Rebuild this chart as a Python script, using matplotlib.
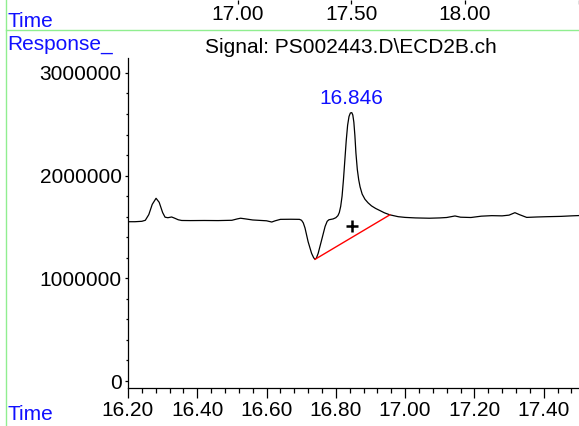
import numpy as np
import matplotlib
matplotlib.use('Agg')
import matplotlib.pyplot as plt
from matplotlib.ticker import MultipleLocator, FixedLocator

plt.rcParams['font.family'] = ['Liberation Sans', 'DejaVu Sans']

# signal (time in min, response)
time_min = [16.19, 16.22, 16.24, 16.25, 16.26, 16.27, 16.281, 16.29, 16.30, 16.307,
            16.315, 16.326, 16.335, 16.345, 16.355, 16.38, 16.42, 16.46, 16.50, 16.515,
            16.525, 16.54, 16.56, 16.58, 16.60, 16.615, 16.625, 16.64, 16.67, 16.695,
            16.701, 16.706, 16.711, 16.720, 16.730, 16.736, 16.740, 16.744, 16.749, 16.759,
            16.769, 16.775, 16.780, 16.792, 16.800, 16.806, 16.810, 16.814, 16.818, 16.822,
            16.826, 16.830, 16.834, 16.838, 16.842, 16.846, 16.849, 16.852, 16.855, 16.858,
            16.862, 16.866, 16.870, 16.876, 16.884, 16.893, 16.903, 16.915, 16.927, 16.940,
            16.956, 16.98, 17.00, 17.03, 17.07, 17.10, 17.12, 17.144, 17.16, 17.19,
            17.22, 17.25, 17.28, 17.30, 17.317, 17.33, 17.351, 17.38, 17.41, 17.45,
            17.48, 17.51]
response = [1.551, 1.551, 1.555, 1.565, 1.62, 1.72, 1.779, 1.74, 1.64, 1.595,
            1.59, 1.597, 1.585, 1.57, 1.563, 1.562, 1.563, 1.562, 1.565, 1.578,
            1.585, 1.578, 1.568, 1.564, 1.56, 1.548, 1.56, 1.574, 1.575, 1.574,
            1.565, 1.54, 1.49, 1.356, 1.243, 1.200, 1.185, 1.198, 1.243, 1.373,
            1.505, 1.555, 1.570, 1.578, 1.590, 1.610, 1.640, 1.700, 1.800, 1.960,
            2.150, 2.340, 2.490, 2.575, 2.610, 2.613, 2.590, 2.520, 2.390, 2.220,
            2.060, 1.960, 1.890, 1.820, 1.770, 1.735, 1.705, 1.680, 1.660, 1.638,
            1.618, 1.600, 1.593, 1.588, 1.585, 1.588, 1.592, 1.607, 1.595, 1.592,
            1.605, 1.610, 1.608, 1.615, 1.639, 1.620, 1.593, 1.597, 1.600, 1.603,
            1.608, 1.612]
response = [v * 1e6 for v in response]

baseline_t = [16.740, 16.956]
baseline_v = [1.185e6, 1.618e6]
peak_rt = 16.846
peak_label = "16.846"
centroid = (16.846, 1.509e6)

top_ticks = [17.00, 17.50, 18.00, 18.50]
top_labels = ["17.00", "17.50", "18.00"]

W, H = 579, 426
fig = plt.figure(figsize=(W / 100, H / 100), dpi=100)
fs = 15

# main chromatogram axes
ax = fig.add_axes([128 / W, (H - 388) / H, (W - 128) / W, (388 - 58) / H])
ax.plot(time_min, response, color='black', lw=0.9)
ax.plot(baseline_t, baseline_v, color='red', lw=1.0)
ax.plot(*centroid, marker='+', color='black', ms=9, mew=1.8)
ax.text(peak_rt, 2.613e6 + 0.05e6, peak_label, color='#1010ff', fontsize=fs,
        ha='center', va='bottom')

ax.set_xlim(16.2, 17.502)
ax.set_ylim(-0.068e6, 3.145e6)
ax.spines['top'].set_visible(False)
ax.spines['right'].set_visible(False)
ax.spines['left'].set_linewidth(0.9)
ax.spines['bottom'].set_linewidth(0.9)

ax.xaxis.set_major_locator(MultipleLocator(0.2))
ax.xaxis.set_minor_locator(MultipleLocator(0.04))
ax.xaxis.set_major_formatter(matplotlib.ticker.FormatStrFormatter('%.2f'))
ax.yaxis.set_major_locator(MultipleLocator(1e6))
ax.yaxis.set_minor_locator(MultipleLocator(2e5))
ax.yaxis.set_major_formatter(matplotlib.ticker.FuncFormatter(lambda v, p: f"{int(round(v))}"))
ax.tick_params(axis='x', which='major', length=7, width=0.9, labelsize=fs, pad=2)
ax.tick_params(axis='x', which='minor', length=3.6, width=0.9)
ax.tick_params(axis='y', which='major', length=2.5, width=0.9, labelsize=fs, pad=2)
ax.tick_params(axis='y', which='minor', length=1.8, width=0.9)

# top overview strip
axt = fig.add_axes([6 / W, (H - 30) / H, (W - 6) / W, 30 / H])
t0 = 17.0 - (238 - 6) / 227.0
t1 = 17.0 + (579 - 238) / 227.0
axt.set_xlim(t0, t1)
axt.set_ylim(0, 1)
for s in ['top', 'right', 'left']:
    axt.spines[s].set_visible(False)
axt.spines['bottom'].set_color('#90ee90')
axt.spines['bottom'].set_linewidth(1.0)
axt.xaxis.set_ticks_position('top')
axt.xaxis.set_major_locator(FixedLocator(top_ticks))
axt.tick_params(axis='x', direction='in', length=3, width=0.9, labeltop=False)
axt.set_yticks([])
for tk, lab in zip(top_ticks, top_labels):
    axt.text(tk, 0.5, lab, fontsize=fs, ha='center', va='center')

# green frame line on the left
fig.add_artist(plt.Line2D([6 / W, 6 / W], [0, 1], color='#90ee90', lw=1.0,
                          transform=fig.transFigure))

blue = '#1010ff'
fig.text(7 / W, 1 - 27 / H, "Time", color=blue, fontsize=fs, ha='left', va='baseline')
fig.text(7 / W, 1 - 50 / H, "Response_", color=blue, fontsize=fs, ha='left', va='baseline')
fig.text(7 / W, 1 - 420 / H, "Time", color=blue, fontsize=fs, ha='left', va='baseline')
fig.text(351 / W, 1 - 53 / H, r"Signal: PS002443.D\ECD2B.ch", fontsize=fs,
         ha='center', va='baseline')

fig.savefig('out.png', dpi=100)
